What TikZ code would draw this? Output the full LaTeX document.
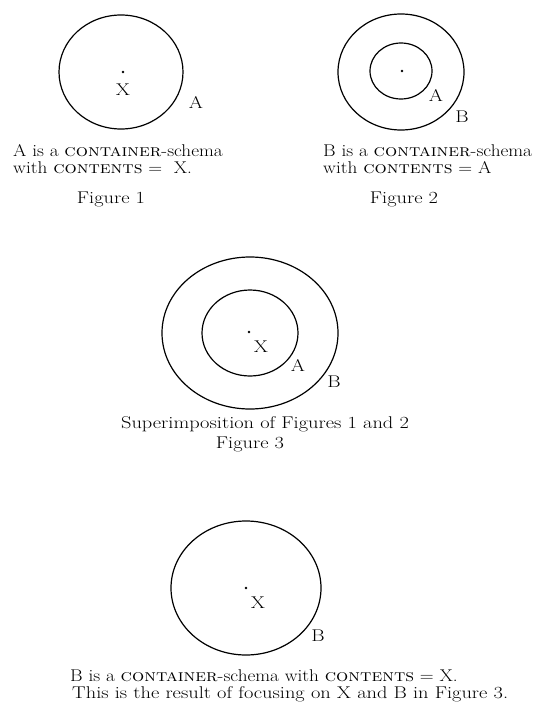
\documentclass[tikz,border=0pt]{standalone}
\usepackage{tikz}
\usepackage{graphicx}
\usetikzlibrary{positioning}
\newcommand{\widetext}[2][1.2]{\scalebox{#1}[1]{#2}}
\tikzset{
  boundary/.style={line width=1.2pt},
  point/.style={circle, fill=black, inner sep=0pt, minimum size=2.6pt},
  tag/.style={inner sep=0pt, font=\fontsize{17}{19}\selectfont},
  caption/.style={inner sep=0pt, anchor=base west, font=\fontsize{17}{19}\selectfont},
  figname/.style={inner sep=0pt, anchor=base, font=\fontsize{17}{19}\selectfont}
}
\begin{document}
\begin{tikzpicture}[x=1pt, y=-1pt]
        \useasboundingbox (0,0) rectangle (540,706);

        % Figure 1
        \coordinate (c1) at (121,72);
        \draw [boundary] (c1) ellipse [x radius=62pt, y radius=57pt];
        \node (dot1) [point] at (123,72) {};
        \node (x1) [tag] at (123,90) {\widetext{X}};
        \node (a1) [tag] at (196,102) {\widetext{A}};
        \node (cap1a) [caption] at (13,156) {\widetext[1.13]{A is a \textsc{container}-schema}};
        \node (cap1b) [caption] at (13,173) {\widetext[1.13]{with \textsc{contents} =\ \ X.}};
        \node (fig1) [figname] at (111,203) {\widetext{Figure 1}};

        % Figure 2
        \coordinate (c2) at (401,72);
        \draw [boundary] (c2) ellipse [x radius=63pt, y radius=58pt];
        \draw [boundary] (401,71) ellipse [x radius=31pt, y radius=28pt];
        \node (dot2) [point] at (402,71) {};
        \node (a2) [tag] at (436,95) {\widetext{A}};
        \node (b2) [tag] at (462,117) {\widetext{B}};
        \node (cap2a) [caption] at (323,156) {\widetext[1.13]{B is a \textsc{container}-schema}};
        \node (cap2b) [caption] at (323,173) {\widetext[1.13]{with \textsc{contents} = A}};
        \node (fig2) [figname] at (404,203) {\widetext{Figure 2}};

        % Figure 3: superimposition
        \coordinate (c3) at (250,333);
        \draw [boundary] (c3) ellipse [x radius=88pt, y radius=76pt];
        \draw [boundary] (c3) ellipse [x radius=48pt, y radius=43pt];
        \node (dot3) [point] at (249,332) {};
        \node (x3) [tag] at (261,347) {\widetext{X}};
        \node (a3) [tag] at (298,365) {\widetext{A}};
        \node (b3) [tag] at (334,382) {\widetext{B}};
        \node (cap3) [figname] at (265,428) {\widetext{Superimposition of Figures 1 and 2}};
        \node (fig3) [figname] at (250,448) {\widetext{Figure 3}};

        % Figure 4: focus on X and B
        \coordinate (c4) at (246,588);
        \draw [boundary] (c4) ellipse [x radius=75pt, y radius=67pt];
        \node (dot4) [point] at (246,588) {};
        \node (x4) [tag] at (258,603) {\widetext{X}};
        \node (b4) [tag] at (318,636) {\widetext{B}};
        \node (cap4a) [caption] at (70,681) {\widetext[1.13]{B is a \textsc{container}-schema with \textsc{contents} = X.}};
        \node (cap4b) [caption] at (72,698) {\widetext{This is the result of focusing on X and B in Figure 3.}};
\end{tikzpicture}
\end{document}
